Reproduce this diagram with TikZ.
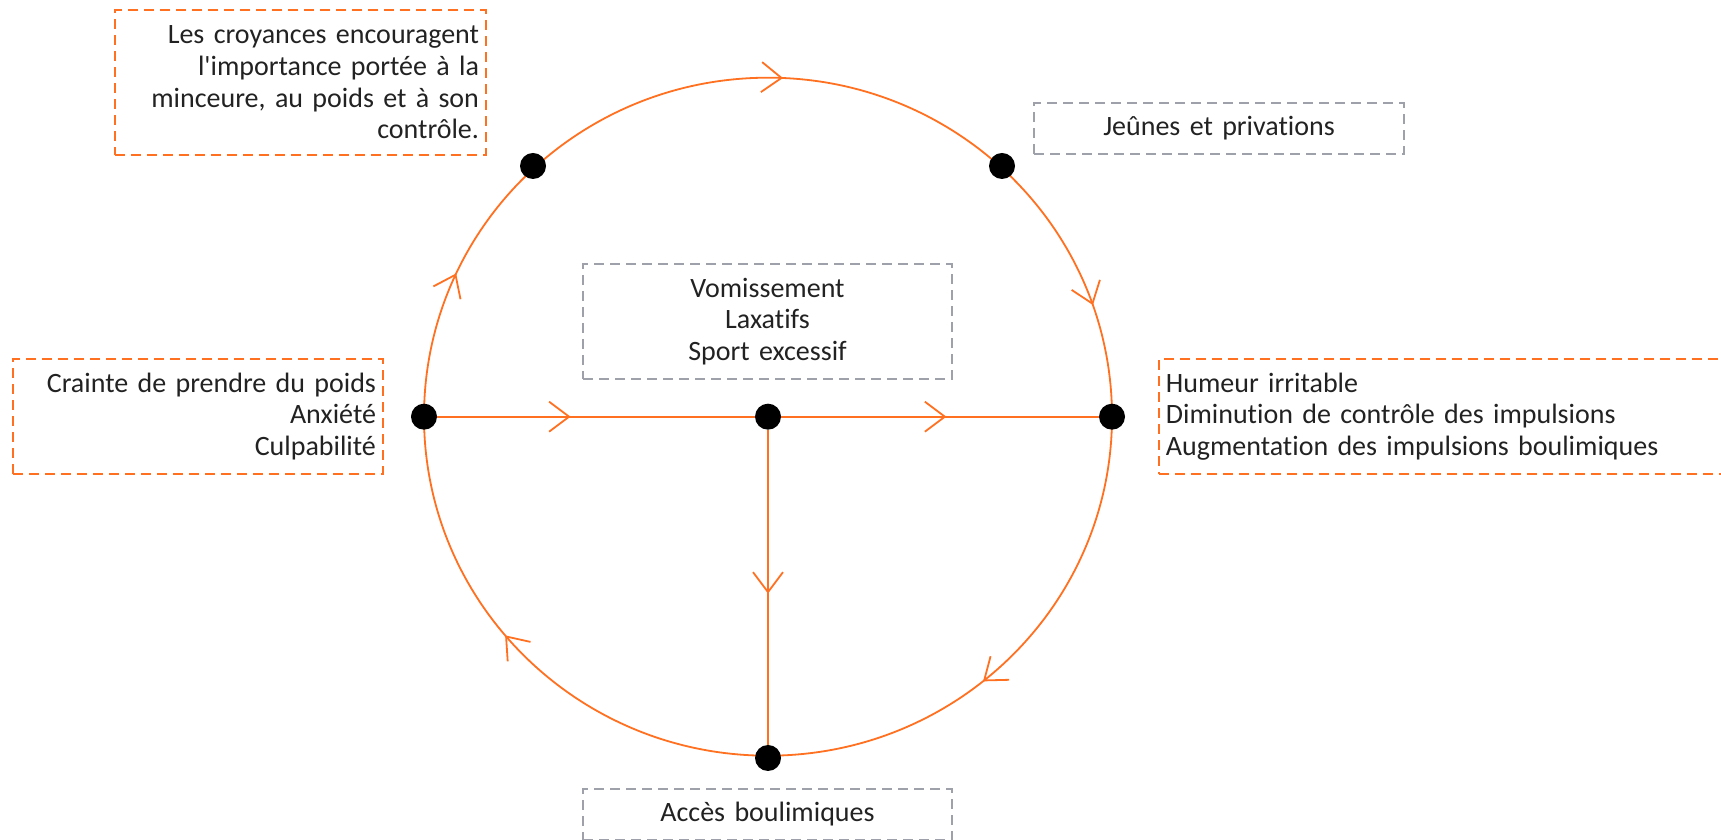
\documentclass[tikz,border=0pt]{standalone}
\usepackage{fontspec}
\setmainfont{Carlito}[Ligatures={TeXOff,NoCommon}]
\usetikzlibrary{arrows.meta,decorations.markings}
\definecolor{ringorange}{RGB}{255,112,32}
\definecolor{boxgray}{RGB}{158,161,170}
\definecolor{ink}{RGB}{34,34,34}

\begin{document}
\begin{tikzpicture}[
  x=1pt, y=1pt,
  font=\fontsize{28}{31.6}\selectfont,
  >={Straight Barb[length=20pt,width=30pt]},
  ring/.style={draw=ringorange, line width=1.8pt},
  flow/.style={postaction={decorate, decoration={markings, mark=at position #1 with {\arrow{>}}}}},
  dot/.style={circle, fill=black, minimum size=26pt, inner sep=0pt},
  orangebox/.style={draw=ringorange, dash pattern=on 10pt off 6pt, line width=1.8pt, text=ink, inner xsep=7pt, inner ysep=0pt},
  graybox/.style={draw=boxgray, dash pattern=on 10pt off 6pt, line width=1.8pt, text=ink, inner xsep=7pt, inner ysep=0pt}
]
\useasboundingbox (0,0) rectangle (1721,840);
\clip (0,0) rectangle (1721,840);

% Cycle
\coordinate (hub) at (768,423.3);
\draw[ring, postaction={decorate, decoration={markings,
    mark=at position 0.053 with {\arrowreversed{>}},
    mark=at position 0.243 with {\arrowreversed{>}},
    mark=at position 0.431 with {\arrowreversed{>}},
    mark=at position 0.611 with {\arrowreversed{>}},
    mark=at position 0.858 with {\arrowreversed{>}}}}]
  (hub) ellipse (344pt and 339pt);

% Points
\node[dot] (centre) at (hub) {};
\node[dot] (west) at (424,423.3) {};
\node[dot] (east) at (1112,423.3) {};
\node[dot] (south) at (768,82) {};
\node[dot] (nw) at (533,674) {};
\node[dot] (ne) at (1002,674) {};

% Boxes
\node[orangebox, text width=357pt, align=right, minimum height=145pt] (croyances) at (300.5,757.5)
  {Les croyances encouragent\\l'importance portée à la\\minceure, au poids et à son\\contrôle.};
\node[graybox, text width=356pt, align=center, minimum height=51pt] (jeunes) at (1219,711.5)
  {Jeûnes et privations};
\node[orangebox, text width=356pt, align=right, minimum height=115pt] (crainte) at (198,423.5)
  {Crainte de prendre du poids\\Anxiété\\Culpabilité};
\node[orangebox, text width=600pt, align=left, minimum height=115pt, anchor=west] (humeur) at (1158,423.5)
  {Humeur irritable\\Diminution de contrôle des impulsions\\Augmentation des impulsions boulimiques};
\node[graybox, text width=355pt, align=center, minimum height=115pt] (purge) at (767.5,518.5)
  {Vomissement\\Laxatifs\\Sport excessif};
\node[graybox, text width=355pt, align=center, minimum height=51pt] (acces) at (767.5,25.5)
  {Accès boulimiques};

% Connections
\draw[ring, flow=0.42] (west) -- (centre);
\draw[ring, flow=0.52] (centre) -- (east);
\draw[ring, flow=0.52] (centre) -- (south);
\end{tikzpicture}
\end{document}
